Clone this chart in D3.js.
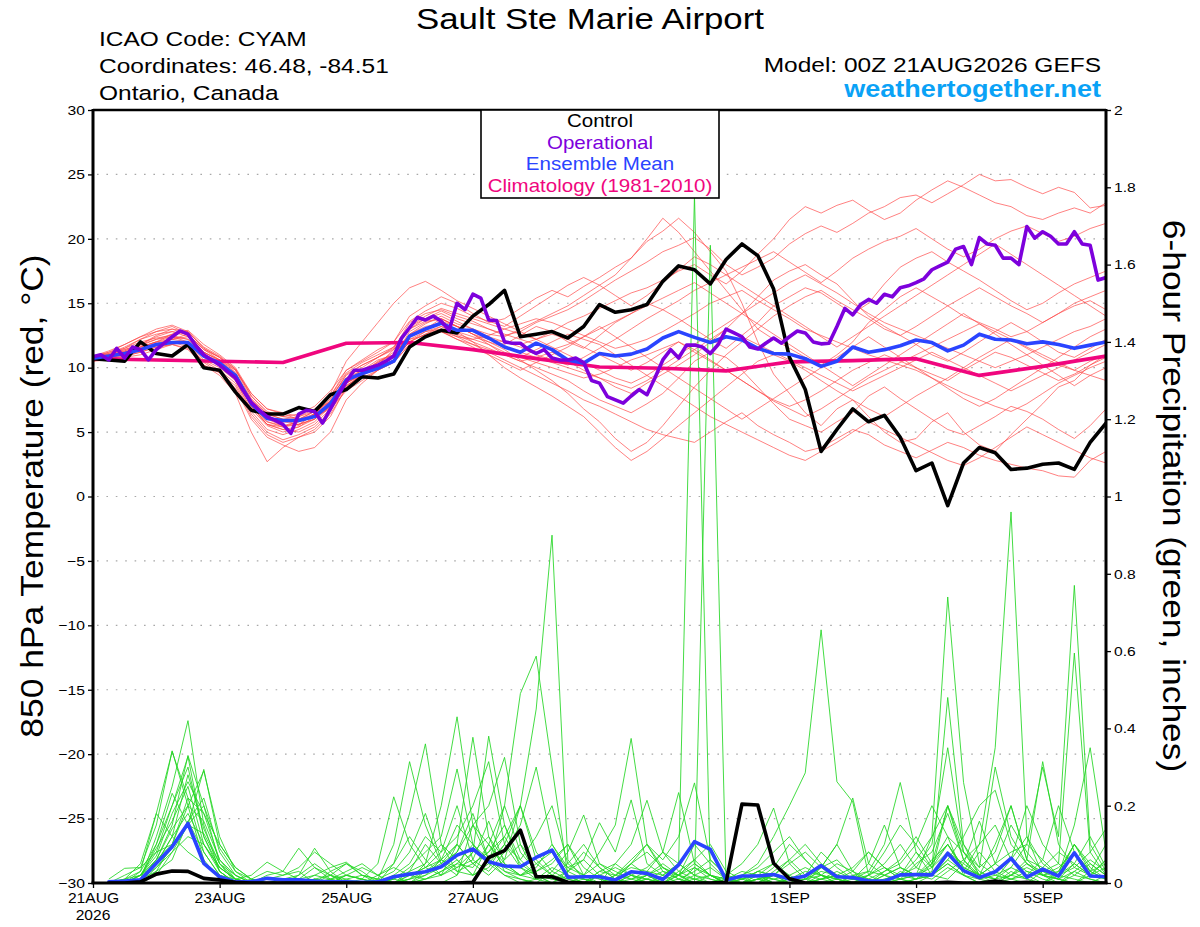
<!DOCTYPE html>
<html>
<head>
<meta charset="utf-8">
<script src="https://cdn.jsdelivr.net/npm/d3@7"></script>
<style>
body{margin:0;background:#fff}
svg{display:block;font-family:"Liberation Sans",Arial,Helvetica,sans-serif}
</style>
</head>
<body>
<svg id="chart" width="1200" height="927"></svg>
<script>
// ---- data (6-hourly unless noted) ----
const tempTicks = [-30,-25,-20,-15,-10,-5,0,5,10,15,20,25,30]
const precipTicks = [0,0.2,0.4,0.6,0.8,1,1.2,1.4,1.6,1.8,2]
const dateTicks = ["2026-08-21","2026-08-23","2026-08-25","2026-08-27","2026-08-29","2026-09-01","2026-09-03","2026-09-05"]
const legendItems = ["Control","Operational","Ensemble Mean","Climatology (1981-2010)"]

// 850 hPa temperature, control run (black)
const controlTemp = [10.7,10.6,10.5,12.0, 11.1,10.9,11.8,10.0, 9.8,8.1,6.7,6.4, 6.4,6.9,6.6,7.9,
  8.3,9.3,9.2,9.5, 11.6,12.4,12.9,12.7, 14.0,14.9,16.0,12.4, 12.6,12.8,12.3,13.2,
  14.9,14.3,14.5,14.9, 16.7,17.9,17.6,16.5, 18.4,19.6,18.7,16.1, 10.8,8.3,3.5,5.2,
  6.8,5.8,6.3,4.6, 2.0,2.6,-0.7,2.6, 3.8,3.4,2.1,2.2, 2.5,2.6,2.1,4.2, 5.7]

// operational run (purple), 3-hourly
const operTemp = [10.85,11.0,10.6,11.5,10.75,11.6,11.4,10.6, 11.4,11.9,12.4,12.85,12.6,11.7,11.0,10.6,
  10.2,9.7,9.2,8.2,7.3,6.7,6.2,5.9, 5.6,4.9,6.4,6.7,6.6,5.7,6.8,7.9,
  8.9,9.8,9.8,10.0,10.2,10.5,10.9,12.3, 13.1,13.9,13.7,14.0,13.6,12.9,15.0,14.5,
  15.7,15.4,13.7,13.65,12.0,11.9,11.9,11.4, 11.1,11.4,10.75,10.6,10.6,10.75,10.4,9.0,
  8.8,7.75,7.5,7.25,7.8,8.3,7.9,9.2, 10.6,11.4,10.75,11.75,11.75,11.6,11.1,11.8,
  13.0,12.7,12.4,11.6,11.45,11.9,12.3,11.9, 12.4,12.85,12.7,12.0,11.85,11.9,13.2,14.6,
  14.1,14.9,15.3,15.0,15.7,15.5,16.2,16.35, 16.6,16.9,17.6,17.9,18.2,19.2,19.4,18.0,
  20.1,19.6,19.5,18.5,18.5,18.0,20.95,20.05, 20.55,20.2,19.6,19.6,20.55,19.6,19.5,16.8, 17.0]

// ensemble mean (blue)
const meanTemp = [10.73,10.9,11.1,11.4, 11.8,11.95,11.95,10.9, 10.35,9.4,7.2,6.05, 5.9,5.9,6.2,7.2,
  9.05,9.55,9.95,10.5, 12.45,13.0,13.45,12.9, 12.9,12.3,11.6,11.2, 11.9,11.4,10.6,10.35,
  11.1,10.9,11.05,11.45, 12.3,12.8,12.35,11.95, 12.4,12.15,11.5,11.1, 11.05,10.7,10.1,10.5,
  11.6,11.2,11.4,11.7, 12.15,11.95,11.3,11.75, 12.6,12.2,12.15,11.85, 12.0,11.8,11.5,11.75, 12.0]

// climatology 1981-2010 (pink), daily at 00Z
const climTemp = [10.7,10.6,10.5,10.4,11.9,11.95,11.4,10.7,10.05,9.95,9.75,10.45,10.55,10.7,9.4,10.1,10.9]

// ensemble members, temperature (thin red)
const tm01 = [10.9,11.2,11.5,12.0, 12.3,12.5,12.2,11.0, 10.5,9.2,7.0,5.8, 5.5,5.6,6.0,7.5, 9.5,10.2,10.8,11.5, 13.5,14.2,14.5,14.0, 13.6,13.0,12.5,12.8, 13.5,14.0,14.5,15.2, 16.0,16.8,17.5,18.2, 19.0,19.5,20.1,19.2, 18.0,17.2,17.8,18.5, 19.6,20.4,21.0,20.5, 21.2,22.0,22.5,23.2, 23.4,22.8,23.5,24.2, 25.0,24.5,24.6,24.0, 23.5,24.0,23.6,22.4, 22.6]
const tm02 = [10.5,10.8,11.3,11.8, 12.5,13.0,12.8,11.5, 10.8,9.6,7.5,6.4, 6.0,5.5,6.5,7.8, 9.8,10.5,11.2,12.0, 14.0,14.8,15.5,15.0, 14.2,13.5,13.8,14.6, 15.4,16.0,15.5,16.3, 17.0,17.8,18.5,19.8, 20.6,21.6,20.5,19.0, 17.5,15.0,12.0,9.5, 8.0,6.5,5.5,6.8, 7.5,6.2,5.0,4.2, 4.5,5.8,6.5,5.0, 4.0,3.5,4.8,6.0, 7.2,8.5,9.0,10.2, 11.0]
const tm03 = [10.8,11.0,11.2,11.5, 11.9,12.2,12.0,10.8, 10.2,9.0,6.8,5.5, 5.0,5.4,6.0,7.0, 8.8,9.5,10.0,10.6, 12.0,12.8,13.2,12.5, 12.0,11.5,11.0,10.5, 10.0,9.5,9.0,8.2, 7.5,7.0,6.5,7.2, 8.0,9.2,10.5,11.2, 10.8,9.8,8.5,7.2, 6.0,5.5,5.0,5.8, 6.5,7.8,8.5,7.6, 6.8,6.0,5.2,4.8, 5.5,6.2,7.0,6.6, 6.0,5.2,4.5,5.5, 6.8]
const tm04 = [10.6,10.7,10.9,11.2, 11.6,11.8,11.5,10.2, 9.4,8.0,5.0,2.7, 3.8,4.6,5.0,6.2, 8.5,9.5,10.5,11.0, 12.5,13.0,13.8,13.2, 12.8,12.2,11.8,12.5, 13.2,12.8,12.0,11.5, 12.5,13.5,14.2,15.0, 14.5,13.8,13.0,12.2, 11.5,12.5,13.5,14.8, 15.5,16.2,15.8,15.0, 14.2,15.0,16.5,17.8, 18.5,19.0,18.2,17.5, 16.8,16.0,15.2,14.5, 15.0,15.8,16.5,17.0, 17.5]
const tm05 = [10.7,11.0,11.5,12.2, 12.8,13.2,12.6,11.2, 10.6,9.8,8.0,6.8, 6.5,6.2,6.8,7.8, 9.2,9.8,10.2,10.8, 12.8,13.5,13.8,13.2, 12.6,11.8,11.0,10.5, 10.8,11.2,10.5,9.8, 9.2,8.5,8.0,8.8, 9.5,10.2,11.0,12.0, 13.0,14.2,15.5,16.8, 17.5,18.0,17.2,16.5, 15.2,14.0,13.2,12.5, 11.8,11.0,10.5,11.2, 12.0,12.8,13.5,12.8, 12.0,11.2,10.8,11.5, 12.2]
const tm06 = [10.9,11.1,11.4,11.8, 12.2,12.4,12.0,10.9, 10.4,9.5,7.5,6.2, 5.8,6.0,6.6,7.4, 9.0,9.8,10.4,11.2, 12.2,12.5,12.8,12.2, 11.8,11.2,10.6,10.0, 9.4,8.8,8.2,7.5, 7.0,6.4,5.8,5.2, 4.8,4.5,4.2,5.0, 5.8,6.5,5.5,4.8, 4.2,3.5,3.8,4.5, 5.2,4.8,4.0,3.5, 3.0,3.6,4.2,3.8, 3.2,2.8,2.5,2.2, 2.0,1.6,1.5,2.8, 3.5]
const tm07 = [10.6,10.9,11.2,11.6, 12.0,12.6,12.8,11.5, 10.8,9.9,7.8,6.6, 6.2,6.0,6.4,7.2, 8.6,9.4,10.2,11.4, 13.0,13.8,14.2,13.6, 13.0,12.6,12.4,13.0, 13.6,14.2,14.8,15.6, 16.4,17.2,18.5,20.0, 21.6,20.5,19.0,17.5, 16.0,14.5,13.0,12.2, 11.5,10.8,10.2,11.0, 12.0,13.5,14.5,15.5, 16.2,15.5,14.8,14.0, 13.5,13.0,12.4,12.8, 13.5,14.2,14.8,15.2, 14.5]
const tm08 = [10.8,11.2,11.8,12.4, 12.8,13.0,12.5,11.2, 10.5,9.2,7.0,5.6, 5.2,5.0,5.6,6.8, 8.8,9.6,10.4,11.0, 12.6,13.2,13.4,12.8, 12.0,11.0,10.0,9.2, 8.5,7.8,7.0,6.2, 5.0,3.8,2.8,3.5, 4.5,5.5,6.5,7.5, 8.5,9.5,10.5,11.0, 10.5,9.8,9.0,8.2, 7.5,6.8,6.2,7.0, 7.8,8.5,9.2,10.0, 10.8,11.5,12.2,11.5, 10.8,10.2,9.8,10.5, 11.0]
const tm09 = [10.5,10.6,10.8,11.0, 11.4,11.8,12.0,11.0, 10.2,9.4,7.2,6.0, 5.5,5.8,6.2,6.8, 8.2,9.0,9.8,10.4, 11.8,12.4,12.8,12.4, 12.2,12.5,13.0,13.4, 13.8,13.5,13.0,12.5, 12.0,11.5,11.8,12.2, 12.8,13.5,14.2,15.0, 15.5,16.0,15.2,14.5, 13.8,13.0,12.5,12.0, 11.5,11.0,10.6,10.2, 9.8,9.2,8.6,8.0, 7.5,7.0,6.6,7.2, 8.0,8.8,9.4,10.0, 10.5]
const tm10 = [10.7,10.8,11.0,11.3, 11.7,12.0,11.8,10.6, 10.0,9.0,6.6,5.2, 4.8,5.2,5.8,7.0, 9.2,10.0,10.8,11.6, 13.2,14.0,14.6,14.2, 13.8,13.4,13.0,12.6, 12.2,12.8,13.5,14.0, 14.6,15.2,15.8,16.2, 16.8,17.5,18.0,17.2, 16.5,17.5,18.8,20.0, 21.5,22.5,22.0,22.6, 23.0,22.2,21.5,22.0, 23.0,23.8,24.5,24.0, 23.4,22.8,22.5,21.8, 21.5,22.0,22.4,22.0, 22.8]
const tm11 = [10.9,11.0,11.2,11.6, 12.0,12.2,12.4,11.2, 10.6,9.6,7.4,6.2, 5.8,5.6,6.0,7.0, 8.8,9.6,10.2,10.8, 12.2,12.8,13.0,12.4, 11.8,11.4,11.0,10.8, 10.4,10.0,9.6,9.2, 9.5,10.0,10.6,11.0, 11.5,12.0,11.2,10.5, 9.8,9.0,8.2,7.5, 7.0,7.5,8.2,9.0, 9.8,10.4,11.0,10.5, 10.0,9.5,9.0,9.8, 10.5,11.2,10.8,10.2, 9.6,9.0,9.5,10.2, 10.8]
const tm12 = [10.6,10.8,11.0,11.4, 11.8,12.2,12.6,11.4, 10.8,9.8,7.6,6.4, 6.0,6.2,6.6,7.4, 9.0,9.8,10.6,11.0, 12.4,13.0,13.6,13.2, 12.6,12.0,11.4,10.6, 9.8,9.0,8.0,6.8, 5.8,4.5,3.5,4.2, 5.5,7.0,8.5,9.8, 11.0,12.0,13.0,14.0, 14.8,15.5,16.0,15.2, 14.5,13.8,13.0,12.5, 13.2,14.0,14.8,15.5, 16.2,15.5,14.8,14.2, 13.5,14.2,15.0,15.5, 16.0]
const tm13 = [10.8,10.9,11.1,11.4, 11.8,12.0,11.6,10.5, 9.8,8.8,6.4,5.0, 4.4,4.8,5.4,6.6, 8.6,9.4,10.0,10.8, 12.6,13.4,14.0,13.4, 13.0,12.4,12.0,11.6, 11.0,10.6,10.2,10.8, 11.5,12.2,13.0,13.8, 14.5,15.2,16.0,16.6, 17.2,17.8,18.4,19.0, 18.2,17.4,16.6,17.5, 18.5,19.2,19.8,20.2, 20.8,20.0,19.2,18.6, 19.2,20.0,20.6,21.0, 20.4,19.8,20.2,20.8, 21.2]
const tm14 = [10.7,11.0,11.4,11.8, 12.4,12.8,12.6,11.4, 10.6,9.4,7.2,5.8, 5.4,5.6,6.4,7.6, 9.4,10.2,10.8,11.4, 13.0,13.6,13.8,13.2, 12.6,12.2,12.0,11.8, 12.2,12.6,12.2,11.6, 11.0,10.4,9.8,10.4, 11.2,12.0,11.4,10.6, 9.8,9.0,8.2,7.4, 6.8,6.2,6.8,7.6, 8.4,9.2,9.8,10.4, 11.0,11.6,12.2,12.8, 13.4,12.8,12.2,11.6, 11.0,10.4,9.8,9.4, 9.0]
const tm15 = [10.5,10.8,11.0,11.4, 11.8,12.0,11.8,10.4, 9.6,8.4,6.0,4.6, 4.0,3.5,3.8,5.0, 7.5,8.8,9.8,10.6, 12.0,12.6,13.2,12.8, 12.4,12.0,11.6,11.2, 10.8,10.4,10.0,9.6, 9.2,8.8,8.4,9.0, 9.8,10.6,11.4,12.2, 13.0,12.4,11.8,11.2, 10.6,10.0,9.4,8.8, 8.2,8.8,9.4,10.0, 10.6,11.2,10.6,10.0, 9.4,8.8,8.2,8.8, 9.4,10.0,10.6,11.2, 11.8]
const tm16 = [10.8,11.1,11.6,12.2, 12.6,12.8,12.4,11.0, 10.2,9.2,7.0,5.6, 5.2,5.4,6.2,8.0, 10.5,12.0,13.5,15.0, 16.2,16.7,16.0,15.2, 14.6,14.0,13.4,12.8, 12.2,11.6,11.0,10.4, 9.8,9.2,8.8,9.4, 10.2,11.0,11.8,12.6, 13.4,14.2,15.0,15.8, 16.6,17.2,16.5,15.8, 15.0,14.2,13.5,13.0, 12.5,12.0,11.5,11.0, 10.5,10.0,10.5,11.0, 11.6,12.2,12.8,13.2, 13.8]
const tm17 = [10.6,10.9,11.2,11.6, 12.0,12.4,12.2,11.0, 10.4,9.4,7.0,5.6, 5.4,5.8,6.4,7.4, 8.8,9.4,10.0,10.6, 12.0,12.6,13.0,12.6, 12.2,11.8,11.2,10.8, 11.4,12.0,12.6,12.2, 11.8,11.0,10.2,9.4, 8.6,7.8,7.0,6.2, 5.6,5.0,4.4,3.8, 3.2,2.8,3.5,4.2, 5.0,5.8,5.2,4.6, 4.0,3.4,2.8,2.4, 3.0,3.8,4.6,5.4, 4.8,4.2,3.6,3.0, 2.6]
const tm18 = [10.9,11.3,11.8,12.4, 13.0,13.3,12.8,11.6, 10.9,9.9,7.8,6.5, 6.2,6.4,7.0,8.2, 9.8,10.6,11.4,12.0, 13.6,14.4,15.0,14.6, 14.0,13.6,13.2,14.0, 14.8,15.6,16.4,17.0, 16.4,15.6,14.8,15.6, 16.6,17.6,18.6,18.0, 17.2,16.4,15.6,14.8, 14.0,13.2,12.4,11.6, 12.4,13.2,14.0,14.8, 15.6,16.4,17.2,18.0, 18.8,19.6,18.8,18.0, 17.2,16.4,15.6,14.8, 14.0]
const tm19 = [10.6,10.7,10.9,11.2, 11.6,11.8,11.4,10.2, 9.6,8.6,6.2,4.8, 4.2,4.6,5.2,6.4, 8.4,9.2,9.8,10.4, 11.8,12.4,12.8,12.2, 11.6,11.0,10.4,9.8, 10.4,11.0,11.6,12.4, 13.2,12.4,11.6,10.8, 10.0,9.2,8.4,7.6, 6.8,6.0,6.8,7.6, 8.4,9.2,10.0,10.8, 11.6,12.4,11.6,10.8, 10.0,9.2,8.4,7.6, 7.0,7.6,8.4,9.2, 10.0,10.8,11.6,12.4, 13.0]
const tm20 = [10.8,11.0,11.3,11.7, 12.2,12.6,12.9,11.8, 11.0,10.0,8.0,6.8, 6.4,6.0,6.6,7.8, 9.6,10.4,11.0,11.6, 13.2,13.8,14.4,13.8, 13.4,13.0,12.6,12.2, 11.8,11.4,11.8,12.4, 13.0,13.6,14.2,14.8, 15.4,16.0,16.6,15.8, 15.0,14.2,13.4,12.6, 11.8,11.0,10.2,9.4, 8.6,9.4,10.2,11.0, 11.8,12.6,13.4,14.2, 13.4,12.6,11.8,11.0, 10.2,9.4,8.6,9.4, 10.0]

// 6-hour precipitation (inches), valid 06Z 21AUG .. 00Z 06SEP
const controlPrecip = [0,0,0.003,0.023, 0.031,0.030,0.012,0.008, 0.002,0,0,0, 0,0,0,0,
  0,0,0,0, 0,0,0,0.002, 0.066,0.084,0.137,0.016, 0.016,0.002,0,0,
  0,0,0,0, 0,0,0,0.002, 0.204,0.202,0.051,0.011, 0,0,0,0,
  0,0,0,0, 0,0.002,0,0, 0.005,0,0.002,0, 0,0,0,0]
const meanPrecip = [0.003,0.005,0.008,0.051, 0.094,0.154,0.051,0.016, 0.003,0.003,0.012,0.008, 0.008,0.005,0.003,0.003,
  0.002,0.003,0.016,0.023, 0.029,0.042,0.072,0.088, 0.055,0.044,0.042,0.066, 0.085,0.015,0.016,0.016,
  0.008,0.029,0.025,0.009, 0.047,0.107,0.087,0.008, 0.018,0.018,0.022,0.010, 0.018,0.045,0.016,0.014,
  0.005,0.005,0.021,0.022, 0.021,0.077,0.032,0.014, 0.029,0.064,0.015,0.036, 0.018,0.078,0.018,0.016]

const pm01 = [0,0,0.01,0.12, 0.25,0.42,0.15,0.03, 0,0,0,0, 0,0.01,0,0, 0,0,0,0.02, 0.04,0.06,0.1,0.05, 0.08,0.12,0.2,0.45, 0.9,0.06,0.01,0, 0,0,0.02,0, 0,0.04,0.02,0, 0,0.01,0,0, 0,0.02,0,0, 0,0,0.03,0.01, 0.05,0.12,0.02,0, 0,0.03,0.01,0, 0.02,0.1,0.03,0.01]
const pm02 = [0,0.01,0.03,0.18, 0.34,0.22,0.08,0.02, 0,0,0.01,0.02, 0.03,0,0,0, 0,0,0.01,0, 0,0,0.02,0.15, 0.1,0.05,0.02,0.01, 0.02,0,0,0.03, 0.02,0.04,0.03,0.02, 0.05,1.78,0.02,0, 0,0.02,0.05,0.01, 0,0.04,0.1,0.03, 0,0,0.01,0.02, 0.05,0.2,0.06,0.02, 0,0.01,0.03,0.01, 0,0.02,0.05,0.02]
const pm03 = [0,0,0.02,0.08, 0.2,0.3,0.12,0.04, 0.01,0,0,0, 0.02,0.05,0.02,0, 0,0,0,0.03, 0.1,0.05,0.02,0.08, 0.38,0.15,0.04,0.01, 0,0.02,0.01,0, 0,0,0.01,0.03, 0.02,0,1.65,0, 0.01,0.03,0.02,0, 0,0.01,0.02,0.04, 0.08,0.04,0.01,0, 0,0.03,0.06,0.1, 0.35,0.96,0.12,0.02, 0,0.03,0.01,0]
const pm04 = [0,0,0.01,0.06, 0.15,0.33,0.2,0.05, 0,0,0,0.01, 0,0,0.03,0.05, 0.02,0,0.05,0.18, 0.36,0.1,0.03,0.02, 0.05,0.1,0.06,0.02, 0,0,0.02,0.05, 0.03,0.01,0,0, 0.02,0.05,0.02,0.01, 0.02,0.05,0.12,0.2, 0.285,0.655,0.262,0.21, 0.02,0,0,0.01, 0.02,0.05,0.02,0, 0,0.02,0.05,0.03, 0.01,0,0.02,0.06]
const pm05 = [0,0,0,0.03, 0.1,0.2,0.29,0.12, 0.03,0,0,0, 0,0,0,0.02, 0.04,0.02,0,0, 0.02,0.06,0.15,0.1, 0.05,0.2,0.49,0.587, 0.3,0.02,0,0, 0.01,0.05,0.02,0, 0,0.02,0.04,0.01, 0,0,0.03,0.06, 0.02,0.01,0,0, 0.02,0.08,0.15,0.1, 0.04,0.48,0.1,0.02, 0.01,0.04,0.02,0, 0.03,0.1,0.04,0.01]
const pm06 = [0,0,0.01,0.05, 0.12,0.18,0.1,0.04, 0.01,0,0,0, 0,0.02,0.01,0, 0,0.01,0.1,0.314, 0.15,0.05,0.1,0.377, 0.12,0.03,0.01,0, 0,0.03,0.06,0.02, 0,0,0.01,0, 0.02,0.01,0,0, 0.01,0.02,0,0.01, 0.03,0.02,0.01,0, 0,0.02,0.04,0.02, 0.12,0.74,0.26,0.05, 0.02,0.01,0,0.03, 0.05,0.02,0.01,0]
const pm07 = [0,0.02,0.04,0.15, 0.342,0.2,0.06,0.01, 0,0,0,0.01, 0.02,0.09,0.03,0, 0,0,0,0.01, 0.05,0.2,0.43,0.15, 0.06,0.02,0,0.01, 0.04,0.02,0,0, 0.02,0.05,0.08,0.04, 0.02,0,0,0.01, 0.03,0.02,0,0, 0,0.01,0.03,0.01, 0,0.03,0.06,0.12, 0.05,0.1,0.04,0.02, 0.05,0.08,0.1,0.3, 0.12,0.77,0.1,0.03]
const pm08 = [0,0,0.02,0.07, 0.18,0.262,0.18,0.06, 0.01,0,0,0, 0,0,0.02,0.05, 0.03,0,0,0, 0.01,0.03,0.06,0.02, 0.1,0.2,0.08,0.03, 0.05,0.1,0.02,0.08, 0.15,0.374,0.1,0.03, 0.01,0,0.02,0, 0,0.01,0.02,0.05, 0.08,0.04,0.01,0, 0.02,0.04,0.01,0, 0.02,0.05,0.02,0.01, 0.03,0.06,0.2,0.1, 0.05,0.595,0.08,0.02]
const pm09 = [0,0,0.01,0.04, 0.09,0.16,0.22,0.08, 0.02,0,0,0, 0,0.01,0,0, 0.01,0.05,0.223,0.1, 0.04,0.08,0.12,0.2, 0.314,0.1,0.04,0.02, 0,0,0.01,0, 0.05,0.02,0.01,0, 0.03,0.06,0.02,0, 0,0,0.01,0.02, 0.04,0.02,0,0.01, 0.03,0.1,0.26,0.08, 0.02,0.01,0.05,0.02, 0.1,0.2,0.06,0.314, 0.1,0.04,0.02,0.06]
const pm10 = [0,0,0.01,0.1, 0.2,0.327,0.12,0.03, 0,0,0,0, 0.01,0.04,0.02,0, 0,0,0.02,0, 0.03,0.05,0.08,0.15, 0.2,0.325,0.1,0.02, 0.01,0,0,0.02, 0.01,0.05,0.1,0.06, 0.12,0.259,0.06,0.02, 0.05,0.1,0.194,0.05, 0.01,0,0,0.02, 0.03,0.02,0.01,0.05, 0.08,0.18,0.06,0.01, 0,0.02,0.04,0.02, 0.01,0,0.03,0.05]
const pm11 = [0,0,0,0.02, 0.08,0.15,0.294,0.1, 0.04,0.01,0,0, 0,0,0.01,0.02, 0.01,0,0.01,0.04, 0.08,0.12,0.295,0.1, 0.05,0.02,0.01,0, 0.03,0.08,0.176,0.05, 0.02,0.01,0.03,0.08, 0.234,0.05,0.02,0, 0.01,0.02,0.01,0, 0.02,0.08,0.04,0.01, 0,0.01,0.02,0.01, 0.03,0.2,0.08,0.02, 0.05,0.15,0.08,0.03, 0.02,0.05,0.12,0.04]
const pm12 = [0,0,0.03,0.1, 0.232,0.15,0.128,0.05, 0.01,0,0.02,0.03, 0.09,0.04,0.01,0, 0,0,0,0.02, 0.04,0.02,0.05,0.1, 0.06,0.03,0.02,0.05, 0.08,0.04,0.06,0.156, 0.08,0.215,0.05,0.02, 0,0.01,0.02,0.01, 0,0.01,0.04,0.1, 0.06,0.02,0.01,0, 0.01,0.03,0.05,0.1, 0.2,0.12,0.08,0.03, 0.01,0.02,0.06,0.04, 0.02,0.01,0,0.02]
const pm13 = [0,0.01,0.05,0.18, 0.12,0.08,0.05,0.02, 0.01,0.02,0.054,0.03, 0.01,0,0,0.01, 0.02,0.01,0.03,0.08, 0.18,0.06,0.03,0.05, 0.02,0.06,0.1,0.05, 0.02,0.01,0,0.03, 0.05,0.1,0.214,0.08, 0.03,0.01,0,0.02, 0.01,0.03,0.02,0, 0.01,0.04,0.1,0.22, 0.05,0.02,0,0.01, 0.02,0.06,0.12,0.2, 0.24,0.1,0.05,0.02, 0.04,0.08,0.03,0.01]
const pm14 = [0.01,0.038,0.04,0.08, 0.1,0.15,0.2,0.09, 0.03,0.01,0,0, 0.01,0.02,0.04,0.054, 0.02,0.01,0,0, 0.01,0.02,0.1,0.05, 0.08,0.15,0.06,0.12, 0.2,0.05,0.02,0.01, 0,0.02,0.04,0.08, 0.05,0.02,0.01,0, 0,0,0.02,0.01, 0,0.01,0.02,0.01, 0.05,0.15,0.04,0.02, 0.01,0.04,0.02,0.08, 0.03,0.01,0.02,0.06, 0.2,0.08,0.03,0.1]
const pm15 = [0,0,0.01,0.06, 0.14,0.2,0.16,0.06, 0.02,0,0,0, 0,0,0,0, 0,0,0.02,0.05, 0.12,0.08,0.2,0.06, 0.03,0.08,0.15,0.3, 0.1,0.04,0.02,0, 0,0.01,0.02,0.05, 0.02,0.1,0.05,0.01, 0,0.01,0.02,0.01, 0.01,0.02,0.05,0.03, 0.01,0,0.02,0.04, 0.1,0.35,0.08,0.04, 0.3,0.12,0.05,0.02, 0.01,0.03,0.06,0.03]
const pm16 = [0,0,0.02,0.09, 0.16,0.25,0.1,0.03, 0,0.01,0.03,0.02, 0.04,0.08,0.05,0.02, 0.01,0,0,0.01, 0.03,0.06,0.04,0.08, 0.12,0.06,0.2,0.08, 0.03,0.01,0,0.02, 0.04,0.02,0,0.01, 0.02,0.06,0.1,0.03, 0.01,0,0.02,0.06, 0.1,0.05,0.02,0, 0,0.01,0.02,0.08, 0.04,0.1,0.03,0.01, 0.02,0.04,0.1,0.06, 0.02,0.15,0.35,0.08]
const pm17 = [0,0,0,0.04, 0.08,0.12,0.1,0.04, 0.01,0,0,0, 0,0.01,0.02,0.01, 0,0,0,0.01, 0.02,0.04,0.08,0.18, 0.06,0.12,0.05,0.02, 0.01,0.03,0.08,0.04, 0.01,0,0,0.02, 0.05,0.02,0,0, 0,0.03,0.05,0.02, 0,0,0.01,0.03, 0.08,0.04,0.02,0.06, 0.12,0.2,0.1,0.04, 0.08,0.2,0.06,0.02, 0.03,0.1,0.05,0.02]
const pm18 = [0,0.01,0.02,0.05, 0.12,0.28,0.14,0.05, 0.02,0,0,0, 0,0.01,0,0, 0,0.02,0.04,0.02, 0.01,0.03,0.05,0.04, 0.1,0.04,0.02,0.03, 0.06,0.1,0.04,0.01, 0,0.02,0.01,0, 0.01,0.03,0.06,0.02, 0,0.01,0,0.01, 0.02,0.04,0.06,0.02, 0.01,0,0.01,0.02, 0.04,0.08,0.05,0.16, 0.05,0.02,0.01,0.04, 0.08,0.05,0.02,0.01]
const pm19 = [0,0,0.01,0.03, 0.06,0.16,0.08,0.02, 0,0,0,0, 0,0,0.01,0.03, 0.05,0.02,0.05,0.12, 0.06,0.02,0.04,0.06, 0.16,0.05,0.02,0.04, 0.1,0.03,0.01,0, 0.02,0.06,0.1,0.04, 0.01,0,0,0.01, 0.02,0.04,0.08,0.12, 0.06,0.02,0.01,0, 0,0.02,0.04,0.02, 0.06,0.1,0.04,0.02, 0.01,0.06,0.12,0.05, 0.02,0.04,0.08,0.14]
const pm20 = [0,0,0.02,0.06, 0.1,0.22,0.18,0.1, 0.04,0.01,0,0, 0,0,0,0.02, 0.01,0,0.01,0.03, 0.05,0.1,0.06,0.02, 0.04,0.1,0.2,0.06, 0.02,0.05,0.1,0.04, 0.01,0,0.02,0.04, 0.02,0.04,0.01,0, 0,0.02,0.01,0, 0.01,0.03,0.02,0.01, 0.02,0.05,0.1,0.04, 0.02,0.06,0.03,0.1, 0.15,0.06,0.03,0.02, 0.01,0.05,0.02,0.04]

const tempMembers = [tm01,tm02,tm03,tm04,tm05,tm06,tm07,tm08,tm09,tm10,tm11,tm12,tm13,tm14,tm15,tm16,tm17,tm18,tm19,tm20]
const precipMembers = [pm01,pm02,pm03,pm04,pm05,pm06,pm07,pm08,pm09,pm10,pm11,pm12,pm13,pm14,pm15,pm16,pm17,pm18,pm19,pm20]

// ---- layout ----
const pxLeft = 93, pxRight = 1106, pxTop = 110, pxBottom = 883
const S = 1.16   // the lettering in the original is drawn wide
const MON = ["JAN","FEB","MAR","APR","MAY","JUN","JUL","AUG","SEP","OCT","NOV","DEC"]

const t0 = Date.UTC(2026, 7, 21)
const toDate = h => new Date(t0 + h * 36e5)
const hours = (start, step, n) => d3.range(n).map(i => start + i * step)

const xScale = d3.scaleUtc().domain([toDate(0), toDate(384)]).range([pxLeft, pxRight])
const yT = d3.scaleLinear().domain([-30, 30]).range([pxBottom, pxTop])
const yP = d3.scaleLinear().domain([0, 2]).range([pxBottom, pxTop])

const svg = d3.select("#chart")

svg.append("defs").append("clipPath").attr("id", "plotclip")
  .append("rect").attr("x", pxLeft).attr("y", pxTop).attr("width", pxRight - pxLeft).attr("height", pxBottom - pxTop)

const label = (txt, x, y, size, o = {}) => {
  const t = svg.append("text")
    .attr("transform", `translate(${x},${y})${o.rotate ? ` rotate(${o.rotate})` : ""} scale(${o.s || S},1)`)
    .attr("font-size", size)
    .attr("text-anchor", o.anchor || "start")
    .attr("fill", o.color || "#000")
    .text(txt)
  if (o.bold) t.attr("font-weight", "bold")
  return t
}

// grid
svg.append("g").selectAll("line")
  .data(tempTicks.filter(v => v > -30 && v < 30))
  .enter().append("line")
  .attr("x1", pxLeft + 4).attr("x2", pxRight)
  .attr("y1", d => yT(d)).attr("y2", d => yT(d))
  .attr("stroke", "#a8a8a8").attr("stroke-width", 1.2)
  .attr("stroke-dasharray", "1.6,7.8")

const plot = svg.append("g").attr("clip-path", "url(#plotclip)")

const lineT = d3.line().x(d => xScale(toDate(d[0]))).y(d => yT(d[1]))
const lineP = d3.line().x(d => xScale(toDate(d[0]))).y(d => yP(d[1]))

const h6 = hours(0, 6, 65)
const hp = hours(6, 6, 64)

tempMembers.forEach(m => {
  plot.append("path").datum(d3.zip(h6, m)).attr("d", lineT)
    .attr("fill", "none").attr("stroke", "#ff4444").attr("stroke-width", 0.8).attr("stroke-opacity", 0.85)
})
precipMembers.forEach(m => {
  plot.append("path").datum(d3.zip(hp, m)).attr("d", lineP)
    .attr("fill", "none").attr("stroke", "#22d622").attr("stroke-width", 0.85)
})

const thick = (data, gen, color) => plot.append("path").datum(data).attr("d", gen)
  .attr("fill", "none").attr("stroke", color).attr("stroke-width", 3.6)
  .attr("stroke-linejoin", "round").attr("stroke-linecap", "round")

thick(d3.zip(hours(0, 24, 17), climTemp), lineT, "#f0067e")
thick(d3.zip(hp, meanPrecip), lineP, "#2a44ff")
thick(d3.zip(hp, controlPrecip), lineP, "#000")
thick(d3.zip(h6, controlTemp), lineT, "#000")
thick(d3.zip(h6, meanTemp), lineT, "#2a44ff")
thick(d3.zip(hours(0, 3, 129), operTemp), lineT, "#7d00dc")

// axes
const styleTicks = (g, size, dx) => {
  g.attr("font-family", null).attr("font-size", null)
  g.select(".domain").remove()
  g.selectAll(".tick line").attr("stroke-width", 1.3)
  g.selectAll(".tick text").attr("font-size", size)
    .attr("transform", `scale(${S},1)`).attr("x", dx / S)
}

svg.append("g").attr("transform", `translate(${pxLeft},0)`)
  .call(d3.axisLeft(yT).tickValues(tempTicks).tickSize(5).tickPadding(3))
  .call(g => styleTicks(g, 13.5, -8))

svg.append("g").attr("transform", `translate(${pxRight},0)`)
  .call(d3.axisRight(yP).tickValues(precipTicks).tickSize(5).tickPadding(3)
    .tickFormat(v => String(Math.round(v * 10) / 10)))
  .call(g => styleTicks(g, 13.5, 8))

const xAxis = svg.append("g").attr("transform", `translate(0,${pxBottom})`)
  .call(d3.axisBottom(xScale).tickValues(dateTicks.map(s => new Date(s + "T00:00:00Z")))
    .tickSize(5).tickPadding(4)
    .tickFormat(d => d.getUTCDate() + MON[d.getUTCMonth()]))
xAxis.attr("font-family", null).attr("font-size", null)
xAxis.select(".domain").remove()
xAxis.selectAll(".tick line").attr("stroke-width", 1.3)
xAxis.selectAll(".tick text").attr("font-size", 15).attr("transform", "scale(1.04,1)")
label("2026", pxLeft, 920, 15, { anchor: "middle", s: 1.04 })

// frame
const frame = svg.append("g").attr("stroke", "#000").attr("fill", "none")
frame.append("line").attr("x1", pxLeft).attr("x2", pxRight).attr("y1", pxTop).attr("y2", pxTop).attr("stroke-width", 2.5)
frame.append("line").attr("x1", pxLeft - 1.5).attr("x2", pxRight + 1.5).attr("y1", pxBottom).attr("y2", pxBottom).attr("stroke-width", 3)
frame.append("line").attr("x1", pxLeft).attr("x2", pxLeft).attr("y1", pxTop - 1).attr("y2", pxBottom).attr("stroke-width", 3)
frame.append("line").attr("x1", pxRight).attr("x2", pxRight).attr("y1", pxTop - 1).attr("y2", pxBottom).attr("stroke-width", 3)

// legend
const legendColors = ["#000", "#7d00dc", "#2a44ff", "#f0067e"]
svg.append("rect").attr("x", 481).attr("y", pxTop).attr("width", 238).attr("height", 88)
  .attr("fill", "#fff").attr("stroke", "#000").attr("stroke-width", 1.6)
legendItems.forEach((t, i) => label(t, 600, 127 + i * 21.7, 17.7, { anchor: "middle", color: legendColors[i] }))

// titles
label("Sault Ste Marie Airport", 590, 29, 30, { anchor: "middle" })
label("ICAO Code: CYAM", 99, 46, 21.1)
label("Coordinates: 46.48, -84.51", 99, 73, 21.1)
label("Ontario, Canada", 99, 100, 21.1)
label("Model: 00Z 21AUG2026 GEFS", 1101, 72, 21.1, { anchor: "end" })
label("weathertogether.net", 1101, 97, 23.3, { anchor: "end", bold: true, color: "#0aa2f6" })

label("850 hPa Temperature (red, \u00b0C)", 43, 496, 30.5, { anchor: "middle", rotate: -90 })
label("6-hour Precipitation (green, inches)", 1163, 496, 30.5, { anchor: "middle", rotate: 90 })
</script>
</body>
</html>
